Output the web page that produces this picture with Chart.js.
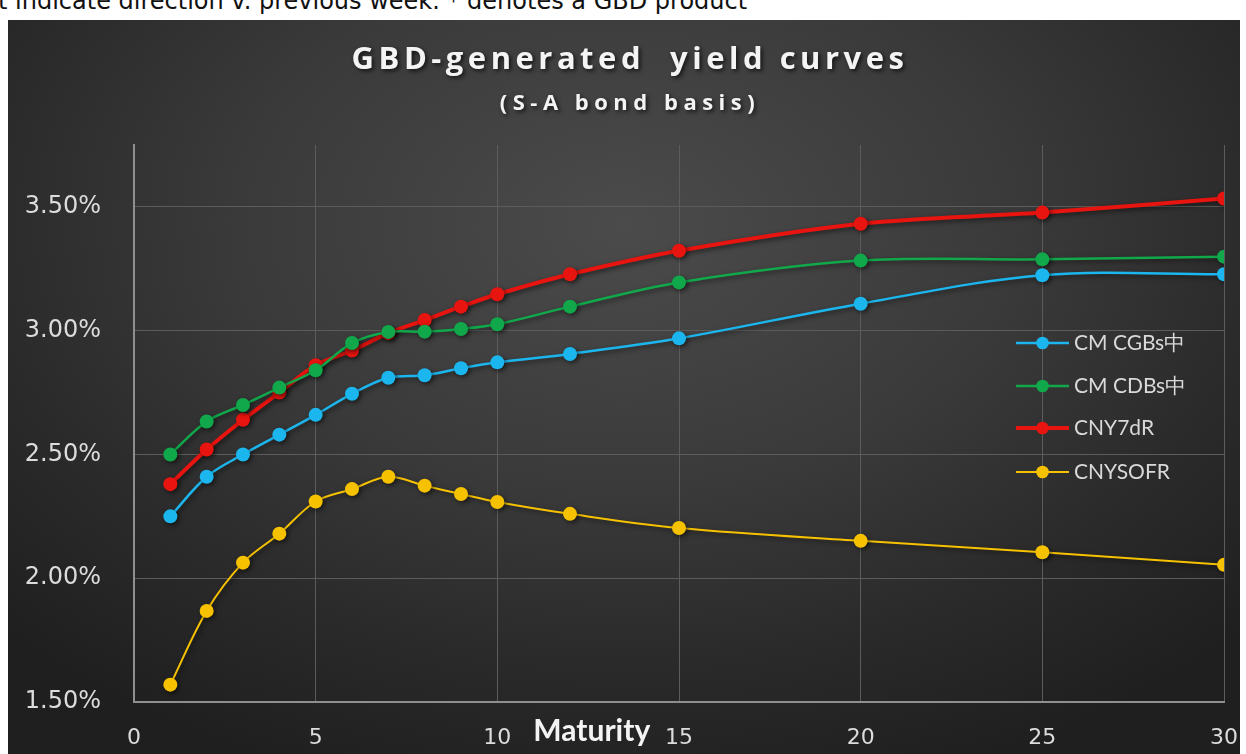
<!DOCTYPE html>
<html>
<head>
<meta charset="utf-8">
<script src="https://cdn.jsdelivr.net/npm/chart.js@4.4.0/dist/chart.umd.min.js"></script>
<style>
  html, body { margin: 0; padding: 0; background: #fff; }
  body { width: 1246px; height: 754px; position: relative; overflow: hidden; }
  #note {
    position: absolute; left: 0; top: 0; width: 1246px; height: 20px; overflow: hidden;
  }
  #note span {
    position: absolute; left: -2px; top: -13px; white-space: nowrap;
    font-family: "DejaVu Sans", sans-serif; font-size: 24px; color: #111;
  }
  #wrap {
    position: absolute; left: 8px; top: 20px; width: 1232px; height: 734px;
    background: radial-gradient(ellipse 70% 80% at 50% 28%, #4b4b4b 0%, #3a3a3a 45%, #2a2a2a 75%, #1f1f1f 100%);
  }
</style>
</head>
<body>
<div id="note"><span>t indicate direction v. previous week.  * denotes a GBD product</span></div>
<div id="wrap"><canvas id="myChart" width="1232" height="734"></canvas></div>
<script>
// maturities in years
const maturities = [1, 2, 3, 4, 5, 6, 7, 8, 9, 10, 12, 15, 20, 25, 30];

// yields in %
const cgbs   = [2.25, 2.41, 2.50, 2.58, 2.66, 2.745, 2.81, 2.82, 2.848, 2.872, 2.906, 2.969, 3.109, 3.224, 3.228];
const cdbs   = [2.50, 2.633, 2.70, 2.77, 2.84, 2.95, 2.995, 2.996, 3.007, 3.026, 3.097, 3.195, 3.283, 3.288, 3.299];
const cny7dr = [2.38, 2.52, 2.64, 2.75, 2.86, 2.92, 2.99, 3.043, 3.097, 3.147, 3.228, 3.323, 3.432, 3.477, 3.534];
const cnysofr = [1.57, 1.868, 2.063, 2.18, 2.31, 2.36, 2.41, 2.374, 2.34, 2.308, 2.26, 2.203, 2.151, 2.105, 2.054];

const seriesNames = ['CM CGBs中', 'CM CDBs中', 'CNY7dR', 'CNYSOFR'];
const seriesColors = ['#1cb6ee', '#10a84b', '#e8140f', '#f6c200'];
const seriesWidths = [2.5, 2.5, 4, 2];

const yTicks = [1.5, 2.0, 2.5, 3.0, 3.5];

const titleText = 'GBD-generated  yield curves';
const subtitleText = '(S-A bond basis)';
const xTitle = 'Maturity';

function toPoints(vals) {
  return maturities.map((m, i) => ({ x: m, y: vals[i] }));
}

const allSeries = [cgbs, cdbs, cny7dr, cnysofr];

const datasets = allSeries.map((vals, i) => ({
  label: seriesNames[i],
  data: toPoints(vals),
  borderColor: seriesColors[i],
  backgroundColor: seriesColors[i],
  borderWidth: seriesWidths[i],
  pointRadius: 7,
  pointHoverRadius: 7,
  pointBorderWidth: 0,
  tension: 0.35
}));

// soft shadow under lines/points
const shadowPlugin = {
  id: 'shadow',
  beforeDatasetsDraw(chart) {
    const ctx = chart.ctx;
    ctx.save();
    ctx.shadowColor = 'rgba(0,0,0,0.55)';
    ctx.shadowBlur = 5;
    ctx.shadowOffsetX = 2;
    ctx.shadowOffsetY = 2;
  },
  afterDatasetsDraw(chart) {
    chart.ctx.restore();
  }
};

// spaced-out title + subtitle
const titles = {
  id: 'titles',
  afterDraw(chart) {
    const ctx = chart.ctx;
    ctx.save();
    ctx.fillStyle = '#f4f4f4';
    ctx.textAlign = 'center';
    ctx.textBaseline = 'middle';
    ctx.shadowColor = 'rgba(0,0,0,0.7)';
    ctx.shadowBlur = 4;
    ctx.shadowOffsetX = 2;
    ctx.shadowOffsetY = 2;
    ctx.font = 'bold 31px "Open Sans", sans-serif';
    ctx.letterSpacing = '4.5px';
    ctx.fillText(titleText, 622, 40);
    ctx.font = 'bold 22px "Open Sans", sans-serif';
    ctx.letterSpacing = '5.5px';
    ctx.fillText(subtitleText, 622, 84);
    ctx.restore();
  }
};

// legend drawn inside the plot, right side
const innerLegend = {
  id: 'innerLegend',
  afterDraw(chart) {
    const ctx = chart.ctx;
    const x0 = 1008, x1 = 1061;
    const ys = [323, 366, 408, 452];
    ctx.save();
    chart.data.datasets.forEach((ds, i) => {
      const y = ys[i];
      ctx.strokeStyle = ds.borderColor;
      ctx.lineWidth = ds.borderWidth;
      ctx.beginPath();
      ctx.moveTo(x0, y);
      ctx.lineTo(x1, y);
      ctx.stroke();
      ctx.fillStyle = ds.backgroundColor;
      ctx.beginPath();
      ctx.arc((x0 + x1) / 2, y, 6.3, 0, Math.PI * 2);
      ctx.fill();
      ctx.fillStyle = '#d9d9d9';
      ctx.font = '21px Lato, "Open Sans", sans-serif';
      ctx.textBaseline = 'middle';
      ctx.fillText(ds.label, x1 + 5, y);
    });
    ctx.restore();
  }
};

// "Maturity" caption sits between the 10 and 15 labels
const axisCaption = {
  id: 'axisCaption',
  afterDraw(chart) {
    const ctx = chart.ctx;
    const xs = chart.scales.x;
    ctx.save();
    ctx.fillStyle = '#f4f4f4';
    ctx.font = 'bold 30px Lato, sans-serif';
    ctx.textAlign = 'center';
    ctx.textBaseline = 'middle';
    ctx.fillText(xTitle, xs.getPixelForValue(12.6), chart.chartArea.bottom + 29);
    ctx.restore();
  }
};

const config = {
  type: 'line',
  data: { datasets: datasets },
  plugins: [shadowPlugin, titles, innerLegend, axisCaption],
  options: {
    responsive: false,
    animation: false,
    layout: { padding: { top: 125, right: 0, left: 0, bottom: 0 } },
    plugins: {
      legend: { display: false },
      tooltip: { enabled: false },
      title: { display: false }
    },
    scales: {
      x: {
        type: 'linear',
        min: 0,
        max: 30,
        ticks: {
          stepSize: 5,
          color: '#dcdcdc',
          font: { family: '"DejaVu Sans", sans-serif', size: 22 },
          padding: 23,
          maxRotation: 0
        },
        grid: { color: '#5c5c5c', lineWidth: 1, drawTicks: false },
        border: { color: '#8f8f8f', width: 2 },
        afterFit(scale) {
          scale.height = 52;
          scale.paddingLeft = 0;
          scale.paddingRight = 16;
        }
      },
      y: {
        min: 1.5,
        max: 3.75,
        afterBuildTicks(axis) {
          axis.ticks = yTicks.map(v => ({ value: v }));
        },
        ticks: {
          color: '#dcdcdc',
          font: { family: '"DejaVu Sans", sans-serif', size: 24 },
          padding: 33,
          callback: v => v.toFixed(2) + '%'
        },
        grid: { color: '#5c5c5c', lineWidth: 1, drawTicks: false },
        border: { color: '#8f8f8f', width: 2 },
        afterFit(scale) { scale.width = 126; }
      }
    }
  }
};

const myChart = new Chart(document.getElementById('myChart'), config);
</script>
</body>
</html>
